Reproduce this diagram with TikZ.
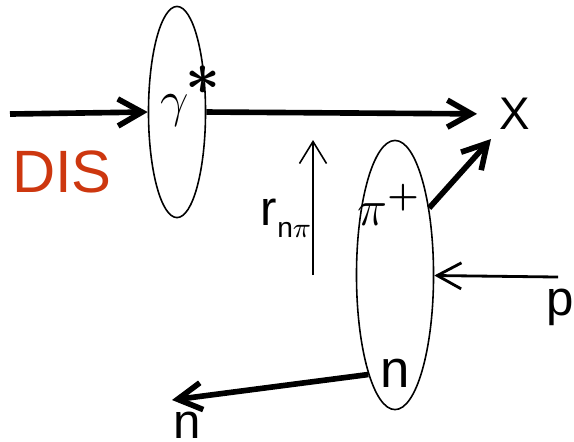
\documentclass[tikz,border=0pt]{standalone}
\usepackage{fontspec}
\setmainfont{Liberation Sans}
\usepackage{bm}
\usetikzlibrary{arrows.meta,positioning,shapes.geometric}
\definecolor{disred}{RGB}{205,55,15}

\begin{document}
\begin{tikzpicture}[
    x=0.01cm, y=-0.01cm,
    blob/.style={draw, ellipse, line width=0.45pt, inner sep=0pt},
    beam/.style={-{Straight Barb[length=2.4mm, width=2.7mm]}, line width=1.6pt},
    inbeam/.style={-{Straight Barb[length=2.4mm, width=2.6mm]}, line width=0.8pt},
    sep/.style={-{Straight Barb[length=2.2mm, width=2.7mm]}, line width=0.45pt},
    lbl/.style={inner sep=0pt, font=\fontsize{14}{14}\selectfont}
]
\useasboundingbox (0,0) rectangle (574,441);
\node[blob, minimum width=0.57cm, minimum height=2.11cm] (photon) at (177,112) {};
\node[blob, minimum width=0.77cm, minimum height=2.69cm] (pion) at (395,275) {};
\node[lbl] (gam) at (175,110) {$\gamma$};
\node[lbl, font=\fontsize{19}{19}\selectfont] (virt) at (203,80) {$\bm{\ast}$};
\node[lbl, font=\fontsize{17}{17}\selectfont, text=disred] (dis) at (62,172) {DIS};
\node[lbl, font=\fontsize{13}{13}\selectfont] (X) at (515,114) {X};
\node[lbl] (pip) at (389,205) {$\pi^{\bm{+}}$};
\node[lbl, font=\fontsize{15}{15}\selectfont] (nin) at (395,373) {n};
\node[lbl] (p) at (560,307) {p};
\node[lbl] (nout) at (187,425) {n};
\node[lbl] (rlab) at (286,218) {r\raisebox{-0.45ex}{\fontsize{8}{8}\selectfont n$\pi$}};
\coordinate (beamin) at (10,114);
\coordinate (xhit) at (491,139);
\coordinate (pin) at (558,277);
\coordinate (nend) at (172,400);
\coordinate (rfoot) at (313,275);
\coordinate (rhead) at (313,140);
\draw[beam] (beamin) -- (photon.west);
\draw[beam, shorten >=2.2mm] (photon.east) -- (X.west);
\draw[beam] (pion.63) -- (xhit);
\draw[inbeam] (pin) -- (pion);
\draw[beam] (pion.255) -- (nend);
\draw[sep] (rfoot) -- (rhead);
\end{tikzpicture}
\end{document}
